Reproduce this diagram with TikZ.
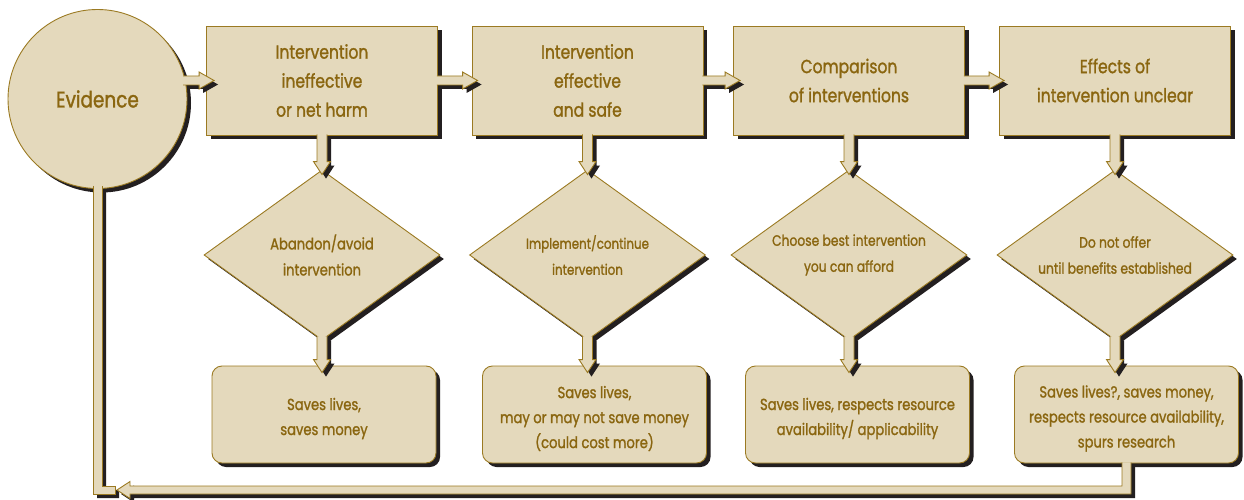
\documentclass[tikz,border=0pt]{standalone}
\usepackage{fontspec}
\setmainfont{Poppins}[FakeStretch=0.82, FakeBold=1.3]
\usetikzlibrary{shapes.geometric,shadows,calc}
\definecolor{fillc}{HTML}{E4D9BC}
\definecolor{linec}{HTML}{9B7A22}
\definecolor{textc}{HTML}{8A6610}
\definecolor{shadowc}{HTML}{231F20}
\tikzset{
  base/.style={fill=fillc, draw=linec, line width=0.9pt, text=textc,
    drop shadow={shadow xshift=4pt, shadow yshift=-4pt, opacity=1, fill=shadowc}},
  evbox/.style={base, circle, minimum size=179pt, inner sep=0pt,
    font=\fontsize{22.5}{30}\selectfont},
  titlebox/.style={base, rectangle, minimum width=231pt, minimum height=109pt,
    inner sep=0pt, align=center, font=\fontsize{19}{29}\selectfont},
  diabox/.style={base, diamond, minimum width=236pt, minimum height=170pt, inner sep=0pt},
  dtext/.style={text=textc, align=center, inner sep=0pt, font=\fontsize{15}{26}\selectfont},
  resbox/.style={base, rectangle, rounded corners=10pt, minimum width=224pt,
    minimum height=97pt, inner sep=0pt},
  rtext/.style={text=textc, align=center, inner sep=0pt, yshift=-4pt,
    font=\fontsize{16}{25}\selectfont},
  shad/.style={fill=shadowc, draw=none, transform canvas={xshift=4pt,yshift=-4pt}},
  blk/.style={fill=fillc, draw=linec, line width=0.9pt, line join=miter},
}
% horizontal block arrow: start point, tip point (y taken from tip)
\newcommand\harr[2]{%
  \foreach \st in {shad,blk}{%
    \path[\st] let \p1=(#1), \p2=(#2) in
      (\x1,\y2+4.5pt) -- (\x2-15pt,\y2+4.5pt) -- (\x2-15pt,\y2+8.5pt) -- (\x2,\y2)
      -- (\x2-15pt,\y2-8.5pt) -- (\x2-15pt,\y2-4.5pt) -- (\x1,\y2-4.5pt);
  }}
% vertical block arrow (downwards): start point, tip point (x taken from tip)
\newcommand\varr[2]{%
  \foreach \st in {shad,blk}{%
    \path[\st] let \p1=(#1), \p2=(#2) in
      (\x2-5pt,\y1) -- (\x2-5pt,\y2+13pt) -- (\x2-8.5pt,\y2+13pt) -- (\x2,\y2)
      -- (\x2+8.5pt,\y2+13pt) -- (\x2+5pt,\y2+13pt) -- (\x2+5pt,\y1);
  }}
\begin{document}
\begin{tikzpicture}[x=1pt,y=-1pt]
\useasboundingbox (0,0) rectangle (1244,500);

\node[evbox] (ev) at (97.5,99) {Evidence};

\node[titlebox] (t1) at (322,80.5) {Intervention\\ineffective\\or net harm};
\node[titlebox] (t2) at (587.5,80.5) {Intervention\\effective\\and safe};
\node[titlebox] (t3) at (849,80.5) {Comparison\\of interventions};
\node[titlebox] (t4) at (1115,80.5) {Effects of\\intervention unclear};

\node[diabox, label={[dtext,name=d1t,font=\fontsize{16}{26}\selectfont]center:{Abandon/avoid\\intervention}}] (d1) at (322,255) {};
\node[diabox, label={[dtext,name=d2t,font=\fontsize{14.5}{26}\selectfont]center:{Implement/continue\\intervention}}] (d2) at (587.5,255) {};
\node[diabox, label={[dtext,name=d3t]center:{Choose best intervention\\you can afford}}] (d3) at (849,255) {};
\node[diabox, label={[dtext,name=d4t]center:{Do not offer\\until benefits established}}] (d4) at (1115,255) {};

\node[resbox, label={[rtext,name=b1t]center:{Saves lives,\\saves money}}] (b1) at (324,414.5) {};
\node[resbox, label={[rtext,name=b2t]center:{Saves lives,\\may or may not save money\\(could cost more)}}] (b2) at (594.5,414.5) {};
\node[resbox, label={[rtext,name=b3t]center:{Saves lives, respects resource\\availability/ applicability}}] (b3) at (857.5,414.5) {};
\node[resbox, label={[rtext,name=b4t]center:{Saves lives?, saves money,\\respects resource availability,\\spurs research}}] (b4) at (1126.5,414.5) {};

\coordinate (rety) at (0,490);

% horizontal arrows
\harr{$(ev.13)+(-2,0)$}{$(t1.west)+(8,0)$}
\harr{$(t1.east)+(-1,0)$}{$(t2.west)+(6,0)$}
\harr{$(t2.east)+(-1,0)$}{$(t3.west)+(7,0)$}
\harr{$(t3.east)+(-1,0)$}{$(t4.west)+(5,0)$}

% vertical arrows
\varr{$(t1.south)+(0,-1)$}{$(d1.north)+(0,5)$}
\varr{$(t2.south)+(0,-1)$}{$(d2.north)+(0,5)$}
\varr{$(t3.south)+(0,-1)$}{$(d3.north)+(0,5)$}
\varr{$(t4.south)+(0,-1)$}{$(d4.north)+(0,5)$}

\varr{$(d1.south)+(0,-4)$}{$(d1.south |- b1.north)+(0,7)$}
\varr{$(d2.south)+(0,-4)$}{$(d2.south |- b2.north)+(0,7)$}
\varr{$(d3.south)+(0,-4)$}{$(d3.south |- b3.north)+(0,7)$}
\varr{$(d4.south)+(0,-4)$}{$(d4.south |- b4.north)+(0,7)$}

% return path
\foreach \st in {shad,blk}{%
  \path[\st] let \p1=(b4.south), \p2=(ev.south), \p3=(rety) in
    (\x2-4.5pt,\y2+3pt) -- (\x2-4.5pt,\y3-4pt) -- (\x2+17.5pt,\y3-4pt)
    -- (\x2+17.5pt,\y3+4pt) -- (\x2+4.5pt,\y3+4pt) -- (\x2+4.5pt,\y2+3pt);
  \path[\st] let \p1=(b4.south), \p2=(ev.south), \p3=(rety) in
    (\x1-4.5pt,\y1+1pt) -- (\x1-4.5pt,\y3+4pt) -- (\x2+32.5pt,\y3+4pt)
    -- (\x2+32.5pt,\y3+8.5pt) -- (\x2+19.5pt,\y3) -- (\x2+32.5pt,\y3-8.5pt)
    -- (\x2+32.5pt,\y3-4pt) -- (\x1+4.5pt,\y3-4pt) -- (\x1+4.5pt,\y1+1pt);
}
\end{tikzpicture}
\end{document}
